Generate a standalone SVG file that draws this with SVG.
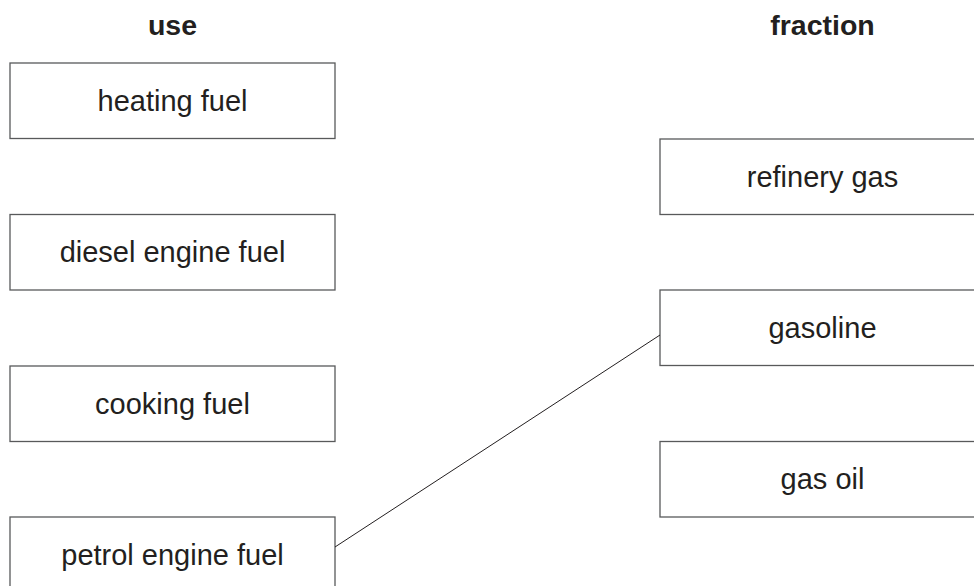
<svg xmlns="http://www.w3.org/2000/svg" width="974" height="586" viewBox="0 0 974 586">
<style>
.box{fill:#fff;stroke:#58595b;stroke-width:1.3}
.lbl{font-family:"Liberation Sans",Arial,sans-serif;font-size:29px;fill:#231f20;text-anchor:middle}
.hd{font-family:"Liberation Sans",Arial,sans-serif;font-size:28.5px;font-weight:bold;fill:#231f20;text-anchor:middle}
.conn{stroke:#231f20;stroke-width:1;fill:none}
</style>
<rect width="974" height="586" fill="#fff"/>
<g id="headings">
<text class="hd" x="172.5" y="35">use</text>
<text class="hd" x="822.5" y="35">fraction</text>
</g>
<g id="use-heating"><rect class="box" x="10" y="63" width="325" height="75.5"/><text class="lbl" x="172.5" y="110.5">heating fuel</text></g>
<g id="use-diesel"><rect class="box" x="10" y="214.5" width="325" height="75.5"/><text class="lbl" x="172.5" y="262">diesel engine fuel</text></g>
<g id="use-cooking"><rect class="box" x="10" y="366" width="325" height="75.5"/><text class="lbl" x="172.5" y="413.5">cooking fuel</text></g>
<g id="use-petrol"><rect class="box" x="10" y="517" width="325" height="75.5"/><text class="lbl" x="172.5" y="564.5">petrol engine fuel</text></g>
<g id="frac-refinery"><rect class="box" x="660" y="139" width="325" height="75.5"/><text class="lbl" x="822.5" y="186.5">refinery gas</text></g>
<g id="frac-gasoline"><rect class="box" x="660" y="290" width="325" height="75.5"/><text class="lbl" x="822.5" y="338">gasoline</text></g>
<g id="frac-gasoil"><rect class="box" x="660" y="441.5" width="325" height="75.5"/><text class="lbl" x="822.5" y="489">gas oil</text></g>
<g id="connectors">
<line class="conn" x1="335" y1="547" x2="660" y2="335"/>
</g>
</svg>
